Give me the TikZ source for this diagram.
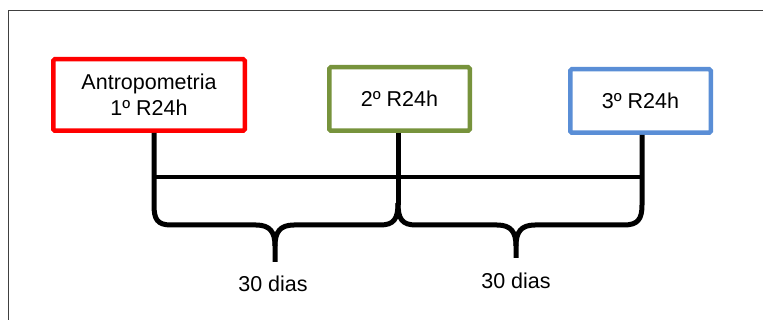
\documentclass[tikz,border=0pt]{standalone}
\usepackage{fontspec}
\setmainfont{Liberation Sans}
\definecolor{boxred}{HTML}{FF0000}
\definecolor{boxgreen}{HTML}{77933C}
\definecolor{boxblue}{HTML}{5A8ED6}
\definecolor{framegray}{HTML}{404040}
\begin{document}
\begin{tikzpicture}[x=1pt,y=-1pt,
  stage/.style={draw, line width=4.5pt, rounded corners=1.5pt, fill=white,
    inner sep=0pt, align=center, font=\fontsize{21.5}{26}\selectfont},
  lbl/.style={anchor=base, inner sep=0pt, font=\fontsize{21.5}{26}\selectfont},
  link/.style={line width=5pt, line cap=butt, line join=round},
  bar/.style={line width=3.5pt}]
  % canvas and outer frame
  \useasboundingbox (0,0) rectangle (763,320);
  \draw[framegray, line width=1pt] (8.5,320) -- (8.5,10.5) -- (763,10.5);

  % timeline stages
  \node[stage, draw=boxred, minimum width=191.5pt, minimum height=71.5pt]
    (b1) at (149,95) {Antropometria\\1º R24h};
  \node[stage, draw=boxgreen, minimum width=140.5pt, minimum height=63.5pt]
    (b2) at (399.5,99) {2º R24h};
  \node[stage, draw=boxblue, minimum width=140.5pt, minimum height=63.5pt]
    (b3) at (640.5,101) {3º R24h};

  % drop points under each stage and brace tips
  \coordinate (v1) at (154,133);
  \coordinate (v2) at (398,133);
  \coordinate (v3) at (642,135);
  \coordinate (t1) at (275,262);
  \coordinate (t2) at (516,258);

  % horizontal timeline bar
  \draw[bar] (v1 |- 0,177) -- (v3 |- 0,177);

  % first brace: from stage 1 to stage 2
  \draw[link] (b1.south -| v1) -- (154,205)
    .. controls (154,219) and (157,225) .. (171,225) -- (256,225)
    .. controls (270,225) and (275,232) .. (275,246) -- (t1);
  \draw[link] (t1 |- 0,246)
    .. controls (275,232) and (280,225) .. (294,225) -- (380,225)
    .. controls (394,225) and (398,219) .. (398,203);
  \draw[link] (b2.south -| v2) -- (398,205);

  % second brace: from stage 2 to stage 3
  \draw[link] (398,203)
    .. controls (398,219) and (402,225) .. (416,225) -- (497,225)
    .. controls (511,225) and (516,232) .. (516,246) -- (t2);
  \draw[link] (t2 |- 0,246)
    .. controls (516,232) and (521,225) .. (535,225) -- (624,225)
    .. controls (638,225) and (642,219) .. (642,205) -- (b3.south -| v3);

  % interval labels
  \node[lbl] (d1) at (273,292) {30 dias};
  \node[lbl] (d2) at (516,289) {30 dias};
\end{tikzpicture}
\end{document}
